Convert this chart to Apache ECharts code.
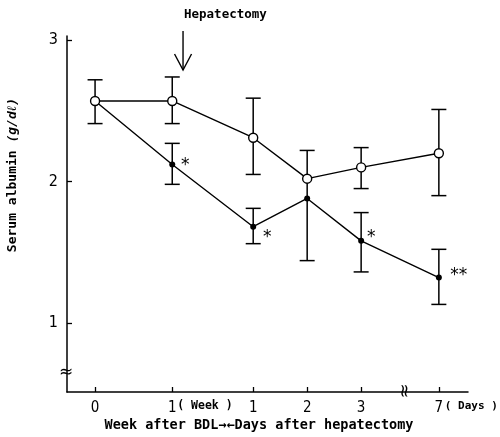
<!DOCTYPE html>
<html><head><meta charset="utf-8">
<script src="https://cdn.jsdelivr.net/npm/echarts@6/dist/echarts.min.js"></script>
<style>html,body{margin:0;padding:0;background:#fff}#c{width:500px;height:437px}</style>
</head><body><div id="c"></div>
<script>
// ---- data ----
var xPos = [0, 1.43, 2.93, 3.93, 4.93, 6.37];
var xLabels = ['0', '1', '1', '2', '3', '7'];
var yTicks = [1, 2, 3];
var openMean = [2.57, 2.57, 2.31, 2.02, 2.10, 2.20];
var openHi   = [2.72, 2.74, 2.59, 2.22, 2.24, 2.51];
var openLo   = [2.41, 2.41, 2.05, 2.02, 1.95, 1.90];
var closedMean = [2.57, 2.12, 1.68, 1.88, 1.58, 1.32];
var closedHi   = [2.57, 2.27, 1.81, 2.02, 1.78, 1.52];
var closedLo   = [2.57, 1.98, 1.56, 1.44, 1.36, 1.13];
var sigMarks = ['', '*', '*', '', '*', '**'];
var titleTop = 'Hepatectomy';
var yName = 'Serum albumin ';
var yUnit = '(g/dℓ)';
var xName = 'Week after BDL→←Days after hepatectomy';
var weekUnit = '( Week )';
var dayUnit = '( Days )';

// ---- styles ----
var mono = "'DejaVu Sans Mono', monospace";
var narrow = "'Liberation Sans Narrow','DejaVu Sans Condensed','DejaVu Sans',sans-serif";
var sigOffsets = [[0,0],[13,-3],[14,7],[0,0],[10,-7],[20,-6]];

var chart = echarts.init(document.getElementById('c'), null, {renderer: 'canvas'});

function errData(mean, hi, lo) {
  return xPos.map(function (x, i) {
    return [x, lo[i], hi[i], mean[i]];
  });
}
function makeRender(isClosed) {
  return function (params, api) {
    var x = api.value(0), lo = api.value(1), hi = api.value(2), m = api.value(3);
    var pLo = api.coord([x, lo]), pHi = api.coord([x, hi]);
    var cap = 7.5;
    var st = {stroke: '#000', lineWidth: 1.5};
    var ch = [];
    if (Math.abs(hi - lo) < 1e-9) return {type: 'group', children: []};
    ch.push({type: 'line', shape: {x1: pLo[0], y1: pLo[1], x2: pHi[0], y2: pHi[1]}, style: st});
    var idx = params.dataIndex;
    var hiIsPoint = isClosed && Math.abs(hi - openMean[idx]) < 1e-9;
    var loIsPoint = !isClosed && Math.abs(lo - m) < 1e-9;
    if (!hiIsPoint) ch.push({type: 'line', shape: {x1: pHi[0]-cap, y1: pHi[1], x2: pHi[0]+cap, y2: pHi[1]}, style: st});
    if (!loIsPoint) ch.push({type: 'line', shape: {x1: pLo[0]-cap, y1: pLo[1], x2: pLo[0]+cap, y2: pLo[1]}, style: st});
    return {type: 'group', children: ch};
  };
}

var option = {
  animation: false,
  backgroundColor: '#fff',
  grid: {left: 67, right: 32, top: 36, bottom: 45},
  xAxis: {
    type: 'value', min: -0.52, max: 6.91,
    splitLine: {show: false},
    axisLine: {show: true, onZero: false, lineStyle: {color: '#000', width: 1.5}},
    axisTick: {show: true, inside: true, length: 5, customValues: xPos, lineStyle: {color: '#000', width: 1.3}},
    axisLabel: {
      customValues: xPos, margin: 9, color: '#000', fontSize: 15, fontFamily: narrow,
      formatter: function (v) {
        for (var i = 0; i < xPos.length; i++) if (Math.abs(xPos[i] - v) < 1e-6) return xLabels[i];
        return '';
      }
    }
  },
  yAxis: {
    type: 'value', min: 0.51, max: 3.03,
    splitLine: {show: false},
    axisLine: {show: true, onZero: false, lineStyle: {color: '#000', width: 1.5}},
    axisTick: {show: true, inside: true, length: 5, customValues: yTicks, lineStyle: {color: '#000', width: 1.3}},
    axisLabel: {customValues: yTicks, margin: 9, color: '#000', fontSize: 16, fontFamily: narrow}
  },
  series: [
    {type: 'custom', renderItem: makeRender(false), data: errData(openMean, openHi, openLo), z: 1, silent: true},
    {type: 'custom', renderItem: makeRender(true), data: errData(closedMean, closedHi, closedLo), z: 1, silent: true},
    {
      type: 'line', z: 3,
      data: xPos.map(function (x, i) { return [x, closedMean[i]]; }),
      symbol: 'circle', symbolSize: 6, showAllSymbol: true,
      lineStyle: {color: '#000', width: 1.4},
      itemStyle: {color: '#000', borderColor: '#000', borderWidth: 0},
      label: {
        show: true, position: 'right', color: '#000', fontSize: 17, fontFamily: "'DejaVu Sans', sans-serif",
        formatter: function (p) { return sigMarks[p.dataIndex]; }
      },
      labelLayout: function (p) {
        var o = sigOffsets[p.dataIndex];
        var r = p.rect;
        return {x: r.x + r.width / 2 + o[0], y: r.y + r.height / 2 + o[1] + 4, align: 'center', verticalAlign: 'middle'};
      }
    },
    {
      type: 'line', z: 4,
      data: xPos.map(function (x, i) { return [x, openMean[i]]; }),
      symbol: 'circle', symbolSize: 9, showAllSymbol: true,
      lineStyle: {color: '#000', width: 1.4},
      itemStyle: {color: '#fff', borderColor: '#000', borderWidth: 1.4}
    }
  ]
};
chart.setOption(option);

var pW = chart.convertToPixel({gridIndex: 0}, [xPos[1], 0.51]);
var pD = chart.convertToPixel({gridIndex: 0}, [xPos[5], 0.51]);
var pA = chart.convertToPixel({gridIndex: 0}, [xPos[1] + 0.2, 3.03]);
var brkY = chart.convertToPixel({gridIndex: 0}, [-0.52, 0.86]);
var brkX = chart.convertToPixel({gridIndex: 0}, [5.75, 0.51]);
var labelY = pW[1] + 14;

chart.setOption({
  graphic: [
    {type: 'text', left: 184, top: 8, style: {text: titleTop, font: "bold 12.5px " + mono, fill: '#000'}},
    {type: 'polyline', shape: {points: [[pA[0], 31], [pA[0], 70]]}, style: {stroke: '#000', lineWidth: 1.4, fill: null}},
    {type: 'polyline', shape: {points: [[pA[0]-8.5, 54], [pA[0], 70], [pA[0]+8.5, 54]]}, style: {stroke: '#000', lineWidth: 1.4, fill: null}},
    {type: 'text', x: 13, y: 175, rotation: Math.PI / 2,
      style: {
        text: '{a|' + yName + '}{b|' + yUnit + '}', align: 'center', verticalAlign: 'middle',
        rich: {
          a: {font: "bold 13px " + mono, fill: '#000'},
          b: {font: "italic bold 13px " + mono, fill: '#000'}
        }
      }},
    {type: 'text', x: pW[0] + 5, y: labelY, style: {text: weekUnit, font: "bold 11.5px " + mono, fill: '#000', verticalAlign: 'middle', align: 'left'}},
    {type: 'text', x: pD[0] + 6, y: labelY, style: {text: dayUnit, font: "bold 11px " + mono, fill: '#000', verticalAlign: 'middle', align: 'left'}},
    {type: 'text', x: 259, y: 425, style: {text: xName, font: "bold 13.5px " + mono, fill: '#000', align: 'center', verticalAlign: 'middle'}},
    {type: 'text', x: brkY[0] - 1, y: 373, style: {text: '≈', font: "17px 'DejaVu Sans', sans-serif", fill: '#000', align: 'center', verticalAlign: 'middle'}},
    {type: 'text', x: brkX[0], y: brkX[1] - 1, rotation: Math.PI / 2, style: {text: '≈', font: "18px 'DejaVu Sans', sans-serif", fill: '#000', align: 'center', verticalAlign: 'middle', backgroundColor: '#fff'}}
  ]
});
</script>
</body></html>
